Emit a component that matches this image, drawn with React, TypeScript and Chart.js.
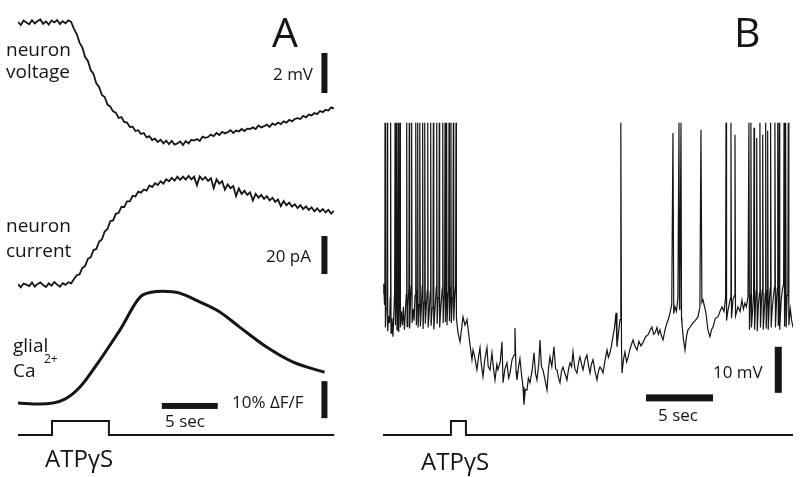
import React, { useEffect, useRef } from "react";
import { Chart, registerables } from "chart.js";

Chart.register(...registerables);

// ---------------- Panel A data ----------------
// sampled recordings, one value every SAMPLE_DT_A seconds
const SAMPLE_DT_A = 0.25; // s
const durationA = 28.3; // s

// neuron voltage, mV relative to baseline
const neuronVoltageA = [
  0.05, -0.1, 0.12, 0.02, -0.06, 0.14, -0.02, 0.1, 0.18, -0.04, 0.08, -0.08, 0.12, 0.03, 0.15, -0.05, 0.09, -0.02, 0.13, 0.06,
  -0.28, -0.55, -0.98, -1.22, -1.7, -1.9, -2.35, -2.55, -3.02, -3.2, -3.6, -3.7, -4.08, -4.18, -4.42, -4.48, -4.75, -4.7, -4.95, -4.98,
  -5.2, -5.18, -5.4, -5.36, -5.55, -5.5, -5.72, -5.66, -5.85, -5.78, -5.95, -5.84, -6.02, -5.88, -6.06, -5.9, -6.08, -6.02, -5.92, -6.1,
  -5.9, -6.02, -5.84, -5.88, -5.8, -5.9, -5.68, -5.74, -5.7, -5.58, -5.66, -5.5, -5.6, -5.44, -5.52, -5.46, -5.36, -5.5, -5.38, -5.42,
  -5.3, -5.4, -5.28, -5.3, -5.22, -5.3, -5.12, -5.22, -5.16, -5.08, -5.2, -5.02, -5.1, -4.98, -5.06, -4.92, -4.98, -4.84, -4.92, -4.8,
  -4.76, -4.8, -4.64, -4.72, -4.58, -4.62, -4.5, -4.56, -4.4, -4.46, -4.34, -4.38, -4.22, -4.28,
];

// neuron current, pA relative to baseline (inward plotted up)
const neuronCurrentA = [
  0.5, -1.2, 0.8, 0.2, -0.5, 1.3, -0.8, 0.6, 1.4, 0.0, -1.0, 0.9, -0.3, 1.6, 0.2, -0.9, 1.0, 0.1, 1.5, 0.9,
  3.1, 5.2, 5.6, 9.0, 10.0, 13.8, 14.6, 18.4, 19.0, 22.8, 24.0, 28.2, 29.5, 33.6, 34.0, 37.5, 38.0, 41.2, 41.0, 44.0,
  44.0, 47.0, 46.6, 49.2, 48.6, 50.3, 49.7, 52.4, 51.6, 53.6, 52.6, 54.6, 53.4, 55.7, 54.6, 56.4, 55.0, 57.0, 55.4, 57.1,
  55.5, 57.4, 55.6, 57.0, 52.5, 57.2, 55.4, 56.8, 54.8, 56.2, 51.0, 55.6, 53.4, 54.6, 50.2, 53.0, 51.0, 52.1, 46.8, 50.8,
  48.0, 49.6, 47.4, 48.8, 44.5, 48.0, 46.0, 47.4, 45.4, 46.8, 44.6, 45.9, 43.8, 45.0, 41.5, 44.2, 42.0, 43.4, 41.3, 42.5,
  40.5, 42.0, 40.0, 41.4, 39.5, 40.9, 38.8, 40.4, 38.6, 40.0, 38.2, 39.6, 37.6, 39.0,
];

// glial Ca2+, % dF/F : [time s, value]
const glialCaA: [number, number][] = [
  [0, 0.3], [1.96, 0], [4.2, 1.35], [5.54, 4.6], [7.32, 11.9], [9.11, 20.0], [11.16, 29.5],
  [12.95, 30.5], [14.46, 30.0], [16.25, 27.6], [18.04, 24.9], [19.82, 20.8], [22.23, 15.4],
  [24.55, 11.4], [27.41, 8.6],
];

// ATPgammaS application (0 = off, 1 = on)
const stimA: [number, number][] = [[0, 0], [3.04, 0], [3.04, 1], [8.13, 1], [8.13, 0], [durationA, 0]];

// ---------------- Panel B data ----------------
const durationB = 30.6; // s
// membrane potential, mV relative to pre-drug resting level : [time s, mV]
const membraneB: [number, number][] = [
  [0.0, 1.5], [0.06, 3.5], [0.11, -1.0], [0.14, 2.5], [0.15, 38.5], [0.18, -6.0], [0.24, -2.0], [0.29, 1.8],
  [0.32, 38.5], [0.35, -6.8], [0.42, -3.5], [0.49, -5.0], [0.54, 0.5], [0.57, 38.5], [0.6, -7.2], [0.67, -4.0],
  [0.74, -8.0], [0.81, -3.0], [0.87, 2.0], [0.9, 38.5], [0.93, -5.5], [0.99, 2.8], [1.02, 38.5], [1.05, -6.5],
  [1.11, 1.5], [1.14, 38.5], [1.17, -7.0], [1.24, 2.0], [1.27, 38.5], [1.3, -6.0], [1.37, -2.5], [1.45, -5.5],
  [1.52, -1.5], [1.6, -6.5], [1.68, -2.0], [1.74, 1.2], [1.77, 38.5], [1.8, -5.8], [1.86, -1.5], [1.93, 2.5],
  [1.96, 38.5], [1.99, -6.2], [2.06, 0.5], [2.11, 3.0], [2.14, 38.5], [2.17, -5.0], [2.25, -2.0], [2.32, -4.5],
  [2.39, 1.0], [2.43, 2.5], [2.46, 38.5], [2.49, -5.5], [2.56, 2.0], [2.59, 38.5], [2.62, -6.0], [2.7, -1.0],
  [2.73, 2.2], [2.76, 38.5], [2.79, -5.8], [2.87, -1.2], [2.93, 3.0], [2.96, 38.5], [2.99, -6.3], [3.06, -0.5],
  [3.1, 2.6], [3.13, 38.5], [3.16, -5.2], [3.24, -1.0], [3.31, 2.0], [3.34, 38.5], [3.37, -6.0], [3.45, -2.5],
  [3.53, 1.8], [3.56, 38.5], [3.59, -5.6], [3.67, -1.8], [3.73, 2.4], [3.76, 38.5], [3.79, -6.4], [3.88, -2.0],
  [3.98, 2.8], [4.01, 38.5], [4.04, -5.2], [4.12, 0.5], [4.17, 2.2], [4.2, 38.5], [4.23, -6.0], [4.32, -1.5],
  [4.43, 2.6], [4.46, 38.5], [4.49, -5.0], [4.56, 0.8], [4.6, 3.0], [4.63, 38.5], [4.66, -4.8], [4.72, 2.5],
  [4.75, 38.5], [4.78, -5.5], [4.86, 1.5], [4.9, 3.2], [4.93, 38.5], [4.96, -4.6], [5.04, 2.8], [5.07, 38.5],
  [5.1, -5.0], [5.18, 0.5], [5.22, 3.5], [5.25, 38.5], [5.28, -4.5], [5.36, 1.0], [5.42, 3.0], [5.45, 38.5],
  [5.48, -4.0],
  [5.6, -7.2], [5.75, -9.1], [5.97, -3.7], [6.12, -5.5], [6.27, -4.3], [6.42, -8.0], [6.64, -13.0], [6.72, -10.9],
  [6.85, -12.5], [7.01, -15.2], [7.15, -12.0], [7.24, -10.4], [7.32, -13.5], [7.46, -16.7], [7.6, -13.0], [7.76, -10.4],
  [7.85, -14.5], [7.99, -15.2], [8.13, -11.5], [8.25, -15.0], [8.36, -17.4], [8.5, -14.0], [8.58, -15.2], [8.75, -13.5],
  [8.88, -9.1], [8.96, -18.0], [9.1, -15.0], [9.25, -13.7], [9.38, -17.0], [9.48, -15.9], [9.63, -13.0], [9.78, -12.0],
  [9.85, -6.1], [9.93, -15.5], [10.0, -17.4], [10.12, -14.5], [10.22, -12.8], [10.35, -16.5], [10.45, -18.9], [10.52, -22.8],
  [10.62, -19.5], [10.75, -19.6], [10.85, -17.0], [10.97, -18.0], [11.12, -15.5], [11.27, -11.5], [11.38, -16.0], [11.49, -17.4],
  [11.62, -14.0], [11.72, -8.7], [11.82, -14.5], [11.94, -15.2], [12.1, -17.5], [12.24, -19.6], [12.35, -15.0], [12.46, -12.4],
  [12.6, -14.5], [12.76, -10.2], [12.88, -15.0], [12.99, -15.2], [13.1, -17.0], [13.21, -18.0], [13.32, -15.5], [13.43, -14.6],
  [13.58, -16.0], [13.73, -17.4], [13.85, -15.0], [13.96, -13.7], [14.08, -14.5], [14.18, -11.3], [14.32, -15.0], [14.48, -15.9],
  [14.6, -13.5], [14.7, -12.4], [14.82, -14.0], [14.93, -15.2], [15.08, -13.0], [15.22, -12.0], [15.35, -14.5], [15.45, -15.9],
  [15.55, -14.0], [15.67, -13.0], [15.82, -15.5], [15.97, -17.4], [16.08, -15.5], [16.19, -14.6], [16.3, -15.0], [16.42, -15.9],
  [16.58, -13.0], [16.72, -10.9], [16.82, -12.5], [16.94, -11.5], [17.05, -10.0], [17.16, -8.0], [17.28, -6.0], [17.39, -2.8],
  [17.46, -10.2], [17.58, -7.0], [17.69, -4.3], [17.74, 2.0], [17.76, 38.5], [17.8, -10.0], [17.84, -15.9], [17.95, -13.0],
  [18.06, -11.3], [18.18, -13.5], [18.28, -12.6], [18.45, -10.5], [18.66, -8.7], [18.8, -10.0], [18.96, -10.9], [19.1, -9.0],
  [19.25, -10.0], [19.4, -9.3], [19.6, -8.0], [19.8, -7.5], [19.95, -6.5], [20.07, -5.9], [20.2, -7.5], [20.3, -7.2],
  [20.45, -6.0], [20.55, -7.5], [20.67, -6.5], [20.78, -7.8], [20.9, -8.7], [21.05, -6.5], [21.19, -5.0], [21.3, -4.2],
  [21.42, -2.8], [21.55, -1.0], [21.64, 36.3], [21.7, -3.0], [21.79, -1.5], [21.9, -2.5], [22.01, 0.5], [22.09, 38.5],
  [22.13, -2.0], [22.16, 0.5], [22.24, 38.5], [22.28, -4.0], [22.31, -5.0], [22.42, -8.5], [22.54, -10.9], [22.65, -8.0],
  [22.76, -6.5], [22.9, -6.0], [23.13, -5.0], [23.3, -4.5], [23.51, -3.7], [23.65, -1.5], [23.73, 37.0], [23.8, -0.5],
  [23.88, 0.0], [24.0, -1.5], [24.1, -2.8], [24.25, -6.5], [24.4, -8.0], [24.52, -6.5], [24.63, -5.9], [24.8, -4.0],
  [25.0, -3.7], [25.15, -2.5], [25.3, -1.5], [25.45, -2.5], [25.57, 0.5], [25.6, 38.5], [25.64, -4.5], [25.75, -2.2],
  [25.94, 0.5], [25.97, 38.5], [26.01, -4.0], [26.12, 0.0], [26.24, 1.0], [26.27, 35.9], [26.31, -3.5], [26.49, -1.5],
  [26.65, -2.5], [26.79, 0.0], [26.9, -2.0], [27.01, -0.7], [27.12, -1.5], [27.24, 0.7],
  [27.31, 38.5], [27.35, -6.5], [27.43, 1.0], [27.46, 38.5], [27.5, -6.0], [27.6, -1.5], [27.66, 1.5], [27.69, 37.4],
  [27.73, -6.5], [27.82, 0.0], [27.86, 2.0], [27.89, 35.2], [27.93, -6.8], [28.02, -1.0], [28.1, 1.5], [28.13, 38.5],
  [28.17, -6.0], [28.26, 0.5], [28.31, 2.2], [28.34, 35.9], [28.38, -6.5], [28.48, -1.0], [28.53, 1.5], [28.56, 38.5],
  [28.6, -6.2], [28.68, 2.0], [28.71, 36.8], [28.75, -6.5], [28.85, 0.5], [28.9, 2.5], [28.93, 38.5], [28.97, -6.0],
  [29.06, -1.5], [29.15, 1.0], [29.22, 2.8], [29.25, 38.5], [29.29, -6.0], [29.38, 0.5], [29.43, 2.5], [29.46, 38.5],
  [29.5, -5.5], [29.54, 2.0], [29.57, 38.5], [29.61, -6.5], [29.72, 0.0], [29.82, 2.5], [29.9, 3.5], [29.93, 38.5],
  [29.97, -5.8], [30.02, 3.0], [30.05, 38.5], [30.09, -6.0], [30.16, 1.0], [30.22, 4.0], [30.25, 38.5], [30.29, -5.5],
  [30.4, -2.0], [30.5, -4.5], [30.6, -6.0],
];

const stimB: [number, number][] = [[0, 0], [5.07, 0], [5.07, 1], [6.19, 1], [6.19, 0], [durationB, 0]];

// scale bars (data units)
const barTimeSec = 5;
const barVoltA = 2; // mV
const barCurrA = 20; // pA
const barCaA = 10; // %
const barVoltB = 10; // mV

const FONT = "'Open Sans', 'Liberation Sans', sans-serif";
const INK = "#151515";

const toXY = (arr: [number, number][]) => arr.map(([x, y]) => ({ x, y }));
const sampled = (arr: number[], dt: number) => arr.map((y, i) => ({ x: i * dt, y }));

function text(ctx: CanvasRenderingContext2D, s: string, x: number, y: number, size: number, align: CanvasTextAlign = "left") {
  ctx.font = `${size}px ${FONT}`;
  ctx.textAlign = align;
  ctx.textBaseline = "alphabetic";
  ctx.fillStyle = INK;
  ctx.fillText(s, x, y);
}

function vBar(chart: any, axis: string, t: number, v0: number, v1: number, w: number) {
  const ctx = chart.ctx;
  const x = chart.scales.x.getPixelForValue(t);
  const y0 = chart.scales[axis].getPixelForValue(v0);
  const y1 = chart.scales[axis].getPixelForValue(v1);
  ctx.fillStyle = INK;
  ctx.fillRect(x - w / 2, Math.min(y0, y1), w, Math.abs(y1 - y0));
}
function hBar(chart: any, axis: string, t0: number, t1: number, v: number, h: number) {
  const ctx = chart.ctx;
  const x0 = chart.scales.x.getPixelForValue(t0);
  const x1 = chart.scales.x.getPixelForValue(t1);
  const y = chart.scales[axis].getPixelForValue(v);
  ctx.fillStyle = INK;
  ctx.fillRect(x0, y - h / 2, x1 - x0, h);
}

const annotA = {
  id: "annotA",
  afterDraw(chart: any) {
    const ctx = chart.ctx;
    ctx.save();
    text(ctx, "A", 272, 47, 41);
    text(ctx, "neuron", 6, 56, 19);
    text(ctx, "voltage", 6, 78, 19);
    text(ctx, "neuron", 6, 232, 19);
    text(ctx, "current", 6, 257, 19);
    text(ctx, "glial", 13, 352, 19);
    text(ctx, "Ca", 13, 377, 19);
    text(ctx, "2+", 44, 363, 12);
    text(ctx, "2 mV", 313, 80, 17, "right");
    text(ctx, "20 pA", 311, 262, 17, "right");
    text(ctx, "10% \u0394F/F", 232, 408, 17);
    text(ctx, "5 sec", 165, 427, 17);
    text(ctx, "ATP\u03B3S", 45, 467, 24);
    vBar(chart, "yV", 27.4, -3.5, -3.5 + barVoltA, 6);
    vBar(chart, "yI", 27.4, 5.8, 5.8 + barCurrA, 6);
    vBar(chart, "yCa", 27.4, -3.8, -3.8 + barCaA, 6);
    hBar(chart, "yCa", 12.86, 12.86 + barTimeSec, -0.5, 6);
    ctx.restore();
  },
};

const annotB = {
  id: "annotB",
  afterDraw(chart: any) {
    const ctx = chart.ctx;
    ctx.save();
    text(ctx, "B", 734, 47, 41);
    text(ctx, "10 mV", 713, 378, 17);
    text(ctx, "5 sec", 658, 421, 17);
    text(ctx, "ATP\u03B3S", 421, 470, 24);
    vBar(chart, "yB", 29.5, -20.2, -20.2 + barVoltB, 7);
    hBar(chart, "yB", 19.63, 19.63 + barTimeSec, -21.3, 7);
    ctx.restore();
  },
};

const baseOptions = (padLeft: number, padRight: number, xMax: number, yScales: Record<string, [number, number]>) => {
  const scales: any = { x: { type: "linear", min: 0, max: xMax, display: false } };
  Object.entries(yScales).forEach(([id, [min, max]]) => {
    scales[id] = { type: "linear", min, max, display: false };
  });
  return {
    animation: false,
    responsive: false,
    maintainAspectRatio: false,
    events: [],
    layout: { padding: { left: padLeft, right: padRight, top: 0, bottom: 0 } },
    plugins: { legend: { display: false }, tooltip: { enabled: false } },
    elements: { point: { radius: 0 }, line: { borderCapStyle: "butt", borderJoinStyle: "miter" } },
    scales,
  };
};

export default function App() {
  const refA = useRef<HTMLCanvasElement>(null);
  const refB = useRef<HTMLCanvasElement>(null);

  useEffect(() => {
    const chartA = new Chart(refA.current as HTMLCanvasElement, {
      type: "line",
      data: {
        datasets: [
          { data: sampled(neuronVoltageA, SAMPLE_DT_A), yAxisID: "yV", borderColor: INK, borderWidth: 1.8, tension: 0, pointRadius: 0 },
          { data: sampled(neuronCurrentA, SAMPLE_DT_A), yAxisID: "yI", borderColor: INK, borderWidth: 1.8, tension: 0, pointRadius: 0 },
          { data: toXY(glialCaA), yAxisID: "yCa", borderColor: INK, borderWidth: 3, cubicInterpolationMode: "monotone", pointRadius: 0 },
          { data: toXY(stimA), yAxisID: "yS", borderColor: INK, borderWidth: 2, tension: 0, pointRadius: 0 },
        ],
      } as any,
      options: baseOptions(18, 800 - 334.5, durationA, {
        yV: [-22.7, 1.15],
        yI: [-101, 150],
        yCa: [-19.7, 109.2],
        yS: [-3.0, 31.07],
      }) as any,
      plugins: [annotA],
    });
    const chartB = new Chart(refB.current as HTMLCanvasElement, {
      type: "line",
      data: {
        datasets: [
          { data: toXY(membraneB), yAxisID: "yB", borderColor: INK, borderWidth: 1.2, tension: 0, pointRadius: 0 },
          { data: toXY(stimB), yAxisID: "yS", borderColor: INK, borderWidth: 2, tension: 0, pointRadius: 0 },
        ],
      } as any,
      options: baseOptions(383, 7, durationB, {
        yB: [-38.5, 65.2],
        yS: [-3.0, 31.07],
      }) as any,
      plugins: [annotB],
    });
    return () => {
      chartA.destroy();
      chartB.destroy();
    };
  }, []);

  return (
    <div style={{ position: "fixed", left: 0, top: 0, width: 800, height: 477, background: "#fff" }}>
      <canvas ref={refA} width={800} height={477} style={{ position: "absolute", left: 0, top: 0 }} />
      <canvas ref={refB} width={800} height={477} style={{ position: "absolute", left: 0, top: 0 }} />
    </div>
  );
}
